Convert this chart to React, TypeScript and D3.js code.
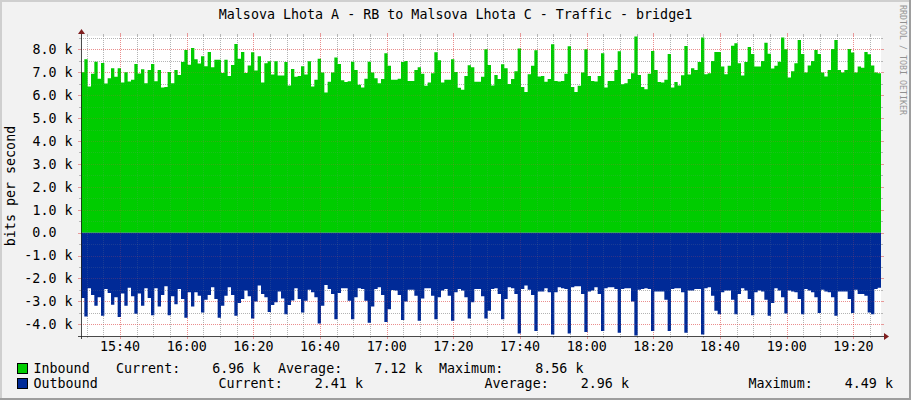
import React from 'react';
import * as d3 from 'd3';

// ---- data (values in kbit/s, one value per minute) ----
const inboundK = [
  7.00, 7.57, 6.38, 6.93, 7.46, 6.71, 7.40, 6.51, 6.74, 7.17,
  6.80, 7.17, 6.55, 7.00, 6.59, 6.67, 7.36, 6.94, 7.13, 6.52,
  7.10, 7.36, 6.61, 7.10, 6.33, 6.36, 7.01, 6.52, 7.10, 6.88,
  7.45, 7.97, 7.33, 8.06, 7.57, 7.38, 7.70, 7.26, 7.88, 7.22,
  7.54, 7.54, 6.97, 7.54, 6.84, 7.32, 8.23, 7.59, 7.88, 6.97,
  7.29, 7.87, 7.07, 7.70, 6.55, 7.39, 7.48, 6.90, 7.48, 6.86,
  6.86, 7.45, 6.42, 7.14, 6.80, 6.83, 7.26, 6.90, 7.48, 6.38,
  6.67, 7.59, 6.99, 6.12, 6.58, 6.99, 7.64, 7.36, 6.65, 6.57,
  6.61, 7.46, 7.10, 6.45, 6.33, 6.71, 7.46, 6.99, 6.74, 6.52,
  6.70, 7.83, 7.28, 6.67, 6.67, 6.71, 7.45, 7.49, 6.62, 6.62,
  7.10, 7.22, 6.93, 6.41, 6.55, 6.96, 7.87, 7.52, 6.55, 6.67,
  6.67, 7.57, 7.01, 6.32, 6.23, 6.84, 7.30, 7.22, 6.58, 6.58,
  6.80, 8.00, 7.32, 6.42, 6.88, 6.70, 7.35, 7.17, 6.49, 6.70,
  7.04, 8.04, 6.35, 6.14, 6.91, 7.28, 7.96, 6.81, 6.84, 6.58,
  6.70, 8.22, 6.62, 6.59, 6.62, 6.93, 8.13, 6.35, 6.14, 6.41,
  6.99, 8.00, 6.84, 6.62, 6.59, 6.84, 7.83, 6.33, 6.62, 6.62,
  7.10, 7.91, 6.48, 6.52, 6.70, 6.96, 8.56, 6.88, 6.35, 6.26,
  6.93, 7.93, 7.10, 6.57, 6.55, 6.67, 7.80, 6.33, 6.57, 6.42,
  6.87, 8.14, 6.90, 7.17, 7.10, 7.45, 8.51, 6.91, 6.96, 7.49,
  7.88, 7.88, 7.25, 6.91, 7.28, 8.16, 8.26, 7.39, 6.86, 7.45,
  8.10, 7.80, 7.25, 7.25, 7.49, 8.29, 7.81, 7.16, 7.28, 7.46,
  8.52, 8.00, 6.77, 7.04, 7.39, 8.41, 7.80, 6.99, 7.29, 7.49,
  7.97, 7.80, 6.99, 6.81, 7.10, 8.01, 8.41, 7.10, 6.99, 7.10,
  8.01, 7.86, 6.99, 7.25, 7.20, 7.88, 7.78, 7.29, 6.99, 6.96,
];

const outboundK = [
  2.85, 3.66, 2.43, 2.72, 3.19, 2.82, 3.63, 2.46, 2.63, 3.15,
  2.82, 3.68, 2.66, 3.19, 2.41, 2.78, 3.54, 2.66, 3.19, 2.43,
  2.85, 3.60, 2.43, 3.22, 2.72, 2.34, 3.60, 2.78, 3.12, 2.46,
  2.90, 3.71, 2.60, 3.22, 2.60, 2.75, 3.49, 2.93, 2.72, 2.38,
  2.90, 3.71, 3.19, 2.75, 2.38, 2.72, 3.63, 3.07, 2.90, 2.53,
  2.78, 3.75, 3.01, 2.31, 2.68, 2.82, 3.46, 3.16, 3.04, 2.57,
  2.87, 3.56, 3.16, 2.96, 2.43, 2.90, 3.49, 2.97, 2.49, 2.60,
  2.82, 3.97, 3.19, 2.28, 2.46, 2.68, 3.78, 2.63, 2.43, 2.43,
  2.97, 3.78, 2.82, 2.43, 2.46, 2.97, 3.93, 3.22, 2.46, 2.38,
  2.72, 3.90, 3.34, 2.50, 2.53, 2.72, 3.81, 3.01, 2.49, 2.49,
  2.75, 3.85, 2.87, 2.43, 2.43, 2.75, 3.78, 2.82, 2.53, 2.46,
  2.75, 3.85, 2.60, 2.46, 2.53, 2.82, 3.75, 3.04, 2.46, 2.46,
  2.78, 3.75, 3.41, 2.46, 2.43, 2.68, 3.78, 2.90, 2.38, 2.43,
  2.68, 4.40, 2.46, 2.31, 2.49, 2.72, 4.29, 2.57, 2.57, 2.43,
  2.60, 4.44, 2.60, 2.38, 2.43, 2.46, 4.40, 2.38, 2.34, 2.34,
  2.68, 4.34, 2.57, 2.53, 2.38, 2.68, 4.29, 2.43, 2.38, 2.38,
  2.46, 4.37, 2.46, 2.43, 2.43, 3.01, 4.49, 2.49, 2.46, 2.43,
  2.46, 4.29, 2.57, 2.57, 2.57, 2.93, 4.29, 2.46, 2.43, 2.43,
  2.60, 4.37, 2.53, 2.53, 2.46, 2.46, 4.44, 2.43, 2.38, 2.75,
  3.41, 3.56, 2.60, 2.53, 2.53, 2.93, 3.56, 2.68, 2.43, 2.53,
  2.90, 3.60, 2.60, 2.53, 2.57, 2.93, 3.63, 3.07, 2.43, 2.53,
  2.82, 3.53, 2.53, 2.57, 2.60, 2.90, 3.56, 2.46, 2.53, 2.60,
  2.82, 3.51, 2.49, 2.57, 2.60, 2.82, 3.63, 2.57, 2.57, 2.57,
  2.90, 3.51, 2.49, 2.68, 2.68, 2.75, 3.49, 3.56, 2.46, 2.41,
];

const seriesNames = ['Inbound', 'Outbound'];
const seriesColors = ['#00CC00', '#002A97'];
const legendCurrent = ['6.96 k', '2.41 k'];
const legendAverage = ['7.12 k', '2.96 k'];
const legendMaximum = ['8.56 k', '4.49 k'];
const yTickValuesK = [-4, -3, -2, -1, 0, 1, 2, 3, 4, 5, 6, 7, 8];
const yMinorTickValuesK = [-3.5, -2.5, -1.5, -0.5, 0.5, 1.5, 2.5, 3.5, 4.5, 5.5, 6.5, 7.5, 8.5];
const titleText = 'Malsova Lhota A - RB to Malsova Lhota C - Traffic - bridge1';
const yAxisTitle = 'bits per second';
const watermark = 'RRDTOOL / TOBI OETIKER';
const startTime = new Date(2020, 0, 1, 15, 28, 17);
const durationMinutes = 240;

const FONT = '"DejaVu Sans Mono", "Liberation Mono", monospace';
const FS = 13.33;

export default function App() {
  const W = 911, H = 400;
  const x0 = 81, x1 = 881, yTop = 36, yBot = 336;
  const t0 = startTime;
  const t1 = d3.timeMinute.offset(t0, durationMinutes);
  const x = d3.scaleTime().domain([t0, t1]).range([x0, x1]);
  const y = d3.scaleLinear().domain([-4510, 8580]).range([yBot, yTop]);

  const mk = (arr: number[], sign: number) => {
    const pts = arr.map((v, i) => ({ t: d3.timeMinute.offset(t0, i), v: sign * v * 1000 }));
    pts.push({ t: t1, v: sign * arr[arr.length - 1] * 1000 });
    return pts;
  };
  const inPts = mk(inboundK, 1);
  const outPts = mk(outboundK, -1);
  const area = d3
    .area<{ t: Date; v: number }>()
    .x((d) => x(d.t))
    .y0(y(0))
    .y1((d) => y(d.v))
    .curve(d3.curveStepAfter);

  const majorX = d3.timeMinute.every(20)!.range(t0, t1);
  const minorX = d3.timeMinute.every(5)!.range(t0, t1).filter((t) => t.getMinutes() % 20 !== 0);
  const fmtTime = d3.timeFormat('%H:%M');

  const fy = (v: number) => Math.round(y(v)) + 0.5;
  const fx = (t: Date) => Math.round(x(t)) + 0.5;

  const yLabel = (v: number) => (v === 0 ? '0.0' : `${v.toFixed(1)} k`);

  const grid = (gridCol: string, mgridCol: string, ticks: boolean, key: string) => (
    <g key={key}>
      {yMinorTickValuesK.map((v) => (
        <g key={'ym' + v}>
          <line x1={x0} x2={x1} y1={fy(v * 1000)} y2={fy(v * 1000)} stroke={gridCol} strokeDasharray="1,1" />
          {ticks && <line x1={x0 - 2} x2={x0} y1={fy(v * 1000)} y2={fy(v * 1000)} stroke={gridCol} />}
          {ticks && <line x1={x1} x2={x1 + 2} y1={fy(v * 1000)} y2={fy(v * 1000)} stroke={gridCol} />}
        </g>
      ))}
      {minorX.map((t) => (
        <g key={'xm' + t.getTime()}>
          <line x1={fx(t)} x2={fx(t)} y1={yTop} y2={yBot} stroke={gridCol} strokeDasharray="1,1" />
          {ticks && <line x1={fx(t)} x2={fx(t)} y1={yTop - 2} y2={yTop} stroke={gridCol} />}
          {ticks && <line x1={fx(t)} x2={fx(t)} y1={yBot} y2={yBot + 2} stroke={gridCol} />}
        </g>
      ))}
      {yTickValuesK.map((v) => (
        <g key={'yM' + v}>
          <line x1={x0} x2={x1} y1={fy(v * 1000)} y2={fy(v * 1000)} stroke={mgridCol} strokeDasharray="1,1" />
          {ticks && <line x1={x0 - 3} x2={x0} y1={fy(v * 1000)} y2={fy(v * 1000)} stroke={mgridCol} />}
          {ticks && <line x1={x1} x2={x1 + 3} y1={fy(v * 1000)} y2={fy(v * 1000)} stroke={mgridCol} />}
        </g>
      ))}
      {majorX.map((t) => (
        <g key={'xM' + t.getTime()}>
          <line x1={fx(t)} x2={fx(t)} y1={yTop} y2={yBot} stroke={mgridCol} strokeDasharray="1,1" />
          {ticks && <line x1={fx(t)} x2={fx(t)} y1={yTop - 3} y2={yTop} stroke={mgridCol} />}
          {ticks && <line x1={fx(t)} x2={fx(t)} y1={yBot} y2={yBot + 3} stroke={mgridCol} />}
        </g>
      ))}
    </g>
  );

  return (
    <svg
      width={W}
      height={H}
      style={{ position: 'absolute', left: 0, top: 0, display: 'block' }}
      xmlns="http://www.w3.org/2000/svg"
    >
      {/* background + shading */}
      <rect x={0} y={0} width={W} height={H} fill="#F2F2F2" />
      <rect x={0} y={0} width={W} height={2} fill="#CFCFCF" />
      <rect x={0} y={0} width={2} height={H} fill="#CFCFCF" />
      <rect x={0} y={H - 2} width={W} height={2} fill="#9E9E9E" />
      <rect x={W - 2} y={0} width={2} height={H} fill="#9E9E9E" />

      {/* canvas */}
      <rect x={x0} y={yTop} width={x1 - x0} height={yBot - yTop} fill="#FFFFFF" />

      {/* grid under the data */}
      {grid('rgba(143,143,143,0.6)', 'rgba(222,80,80,0.55)', true, 'g-under')}

      {/* areas */}
      <path d={area(inPts) || ''} fill={seriesColors[0]} />
      <path d={area(outPts) || ''} fill={seriesColors[1]} />

      {/* faint grid over the data */}
      {grid('rgba(143,143,143,0.18)', 'rgba(222,80,80,0.22)', false, 'g-over')}

      {/* axes */}
      <line x1={x0 - 3} x2={x1 + 4} y1={yBot + 0.5} y2={yBot + 0.5} stroke="#1F1F1F" opacity={0.8} />
      <line x1={x0 + 0.5} x2={x0 + 0.5} y1={yBot + 3} y2={yTop - 4} stroke="#1F1F1F" opacity={0.8} />
      <path d={`M${x1 + 3},${yBot - 3} L${x1 + 8},${yBot + 0.5} L${x1 + 3},${yBot + 4} Z`} fill="#801F1F" />
      <path d={`M${x0 - 3},${yTop - 2} L${x0 + 0.5},${yTop - 7} L${x0 + 4},${yTop - 2} Z`} fill="#801F1F" />

      {/* y labels */}
      {yTickValuesK.map((v) => (
        <text
          key={'yl' + v}
          x={v === 0 ? 72.5 - 2 * 8.03 : 72.5}
          y={y(v * 1000) + 4.8}
          textAnchor="end"
          fontFamily={FONT}
          fontSize={FS}
          fill="#000"
        >
          {yLabel(v)}
        </text>
      ))}

      {/* x labels */}
      {majorX.map((t) => (
        <text
          key={'xl' + t.getTime()}
          x={x(t)}
          y={351}
          textAnchor="middle"
          fontFamily={FONT}
          fontSize={FS}
          fill="#000"
        >
          {fmtTime(t)}
        </text>
      ))}

      {/* title */}
      <text x={455.5} y={19} textAnchor="middle" fontFamily={FONT} fontSize={FS} fill="#000">
        {titleText}
      </text>

      {/* y axis title */}
      <text
        transform={`translate(15,186) rotate(-90)`}
        textAnchor="middle"
        fontFamily={FONT}
        fontSize={FS}
        fill="#000"
      >
        {yAxisTitle}
      </text>

      {/* watermark */}
      <text
        transform={`translate(900,5) rotate(90)`}
        fontFamily={FONT}
        fontSize={9}
        fill="#000"
        opacity={0.4}
        textLength={110}
        lengthAdjust="spacingAndGlyphs"
      >
        {watermark}
      </text>

      {/* legend */}
      {seriesNames.map((name, i) => {
        const base = i === 0 ? 373 : 388;
        return (
          <g key={name}>
            <rect x={17.5} y={base - 9.5} width={10} height={10} fill={seriesColors[i]} stroke="#000" strokeWidth={1} />
            <text x={33.5} y={base} fontFamily={FONT} fontSize={FS} fill="#000">
              {name}
            </text>
          </g>
        );
      })}
      {[0, 1].map((i) => {
        const base = i === 0 ? 373 : 388;
        const xs = i === 0 ? [116, 278, 439] : [218.5, 484.5, 748.5];
        const parts = [
          `Current:    ${legendCurrent[i]}`,
          `Average:    ${legendAverage[i]}`,
          `Maximum:    ${legendMaximum[i]}`,
        ];
        return parts.map((p, j) => (
          <text key={'lg' + i + j} x={xs[j]} y={base} fontFamily={FONT} fontSize={FS} fill="#000" style={{ whiteSpace: 'pre' }}>
            {p}
          </text>
        ));
      })}
    </svg>
  );
}
